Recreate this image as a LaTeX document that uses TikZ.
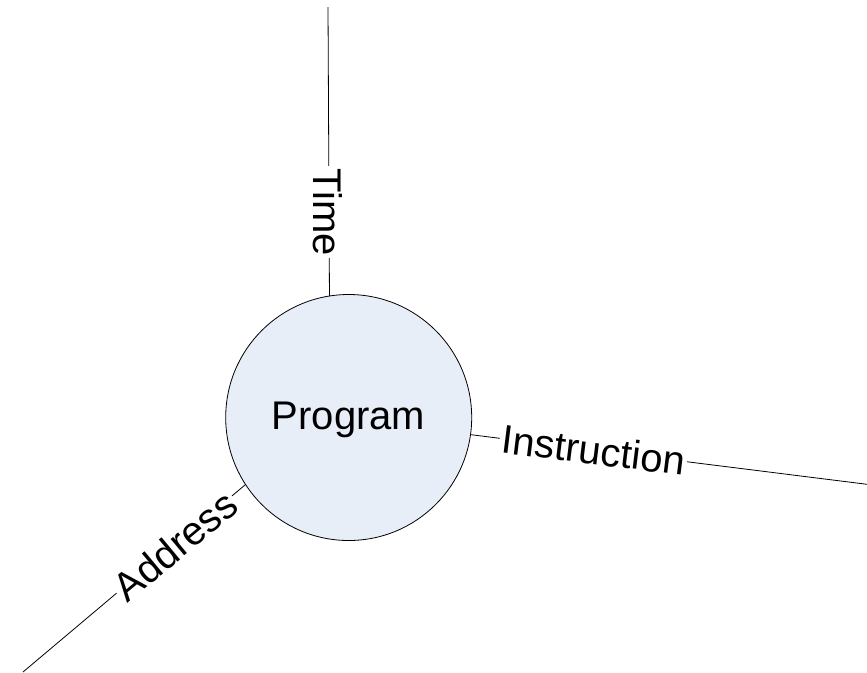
\documentclass[tikz,border=0pt]{standalone}
\usepackage{fontspec}
\setmainfont{Liberation Sans}
\definecolor{progfill}{RGB}{232,238,247}
\begin{document}
\begin{tikzpicture}[x=0.75pt,y=-0.75pt,
  conn/.style={draw=black,line width=0.6pt},
  lbl/.style={fill=white,inner xsep=1.5pt,inner ysep=0pt,font=\fontsize{30}{36}\selectfont},
  hub/.style={circle,draw=black,line width=0.6pt,fill=progfill,minimum size=184.5pt,inner sep=0pt,outer sep=0pt}]
\useasboundingbox (0,0) rectangle (867,672);
\coordinate (tEnd) at (328,7);
\coordinate (iEnd) at (867,484.3);
\coordinate (aEnd) at (23,672);
\node[hub] (prog) at (348.7,417.5) {};
\draw[conn] (prog.99.7) -- (tEnd);
\draw[conn] (prog.-8.1) -- (iEnd);
\draw[conn] (prog.213.9) -- (aEnd);
\node[anchor=base,inner sep=0pt,font=\fontsize{30}{36}\selectfont] (progtext) at (348.5,429.3) {Program};
\node[lbl,rotate=-90] (tlab) at (327.5,212) {Time};
\node[lbl,rotate=-7.07] (ilab) at (593.5,450) {Instruction};
\node[lbl,rotate=39.7] (alab) at (175,545.5) {Address};
\end{tikzpicture}
\end{document}
